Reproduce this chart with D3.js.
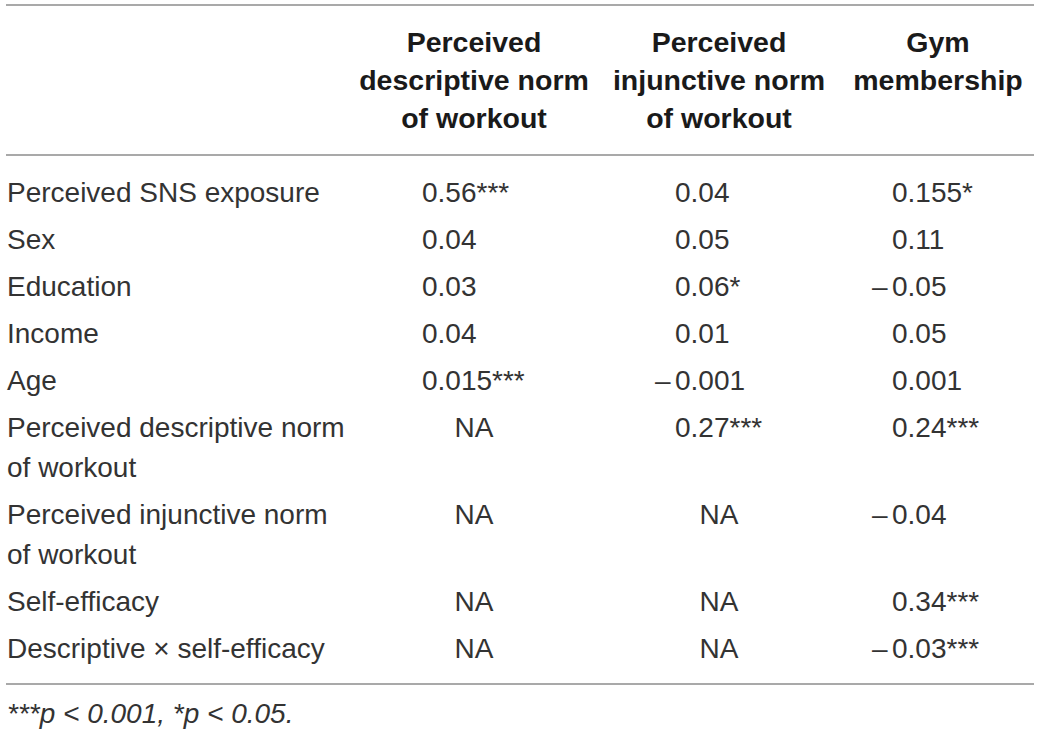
<!DOCTYPE html>
<html>
<head>
<meta charset="utf-8">
<script src="https://cdn.jsdelivr.net/npm/d3@7"></script>
<style>
  html, body { margin: 0; padding: 0; background: #fff; }
  svg { display: block; }
  text { font-family: "Liberation Sans", Helvetica, Arial, sans-serif; }
</style>
</head>
<body>
<div id="chart"></div>
<script>
(function () {
  'use strict';

  // Table content
  var columns = ['descriptive', 'injunctive', 'gym'];
  var columnHeaders = [
    ['Perceived', 'descriptive norm', 'of workout'],
    ['Perceived', 'injunctive norm', 'of workout'],
    ['Gym', 'membership']
  ];
  var rowLabels = [
    ['Perceived SNS exposure'],
    ['Sex'],
    ['Education'],
    ['Income'],
    ['Age'],
    ['Perceived descriptive norm', 'of workout'],
    ['Perceived injunctive norm', 'of workout'],
    ['Self-efficacy'],
    ['Descriptive \u00d7 self-efficacy']
  ];
  var descriptiveNorm = ['0.56***', '0.04', '0.03', '0.04', '0.015***', 'NA', 'NA', 'NA', 'NA'];
  var injunctiveNorm = ['0.04', '0.05', '0.06*', '0.01', '\u22120.001', '0.27***', 'NA', 'NA', 'NA'];
  var gymMembership = ['0.155*', '0.11', '\u22120.05', '0.05', '0.001', '0.24***', '\u22120.04', '0.34***', '\u22120.03***'];
  var footnote = '***p < 0.001, *p < 0.05.';

  var width = 1040, height = 733;
  var fontSize = 28;
  var lineGap = 40, rowGap = 47;
  var textColor = '#333';
  var ruleColor = '#8c8c8c';

  var svg = d3.select('#chart').append('svg').attr('width', width).attr('height', height);

  // Column centres (headers, NA) and numeric anchors (left edge of digits)
  var xCenter = d3.scaleOrdinal().domain(columns).range([474, 719, 938]);
  var xNum = d3.scaleOrdinal().domain(columns).range([422, 675, 892]);
  var minusShift = 20;

  // Row baselines from cumulative line counts
  var baselines = [];
  var acc = 202;
  rowLabels.forEach(function (lines) { baselines.push(acc); acc += rowGap + lineGap * (lines.length - 1); });
  var yRow = d3.scaleOrdinal().domain(d3.range(rowLabels.length)).range(baselines);

  var yHead = d3.scaleLinear().domain([0, 1]).range([52, 52 + 38]);

  // Rules
  var rules = [5, 155, 684];
  svg.selectAll('line.rule').data(rules).enter().append('line')
    .attr('class', 'rule')
    .attr('x1', 6).attr('x2', 1034)
    .attr('y1', function (d) { return d; }).attr('y2', function (d) { return d; })
    .attr('stroke', ruleColor).attr('stroke-width', 1.5);

  // Header
  columns.forEach(function (c, ci) {
    svg.append('g').selectAll('text').data(columnHeaders[ci]).enter().append('text')
      .attr('x', xCenter(c))
      .attr('y', function (d, i) { return yHead(i); })
      .attr('text-anchor', 'middle')
      .attr('font-size', 28.5).attr('font-weight', 'bold')
      .attr('fill', '#1a1a1a')
      .text(function (d) { return d; });
  });

  // Row labels
  rowLabels.forEach(function (lines, ri) {
    svg.append('g').selectAll('text').data(lines).enter().append('text')
      .attr('x', 7)
      .attr('y', function (d, i) { return yRow(ri) + i * lineGap; })
      .attr('font-size', fontSize)
      .attr('fill', textColor)
      .text(function (d) { return d; });
  });

  // Values
  var series = { descriptive: descriptiveNorm, injunctive: injunctiveNorm, gym: gymMembership };
  columns.forEach(function (c) {
    svg.append('g').selectAll('text').data(series[c]).enter().append('text')
      .attr('x', function (d) {
        if (d === 'NA') return xCenter(c);
        return d.charAt(0) === '\u2212' ? xNum(c) - minusShift : xNum(c);
      })
      .attr('y', function (d, i) { return yRow(i); })
      .attr('text-anchor', function (d) { return d === 'NA' ? 'middle' : 'start'; })
      .attr('font-size', fontSize)
      .attr('fill', textColor)
      .each(function (d) {
        var t = d3.select(this);
        if (d.charAt(0) === '\u2212') {
          t.append('tspan').text('\u2013');
          t.append('tspan').attr('x', xNum(c)).text(d.slice(1));
        } else {
          t.text(d);
        }
      });
  });

  // Footnote
  svg.append('text')
    .attr('x', 7).attr('y', 723)
    .attr('font-size', fontSize).attr('font-style', 'italic')
    .attr('fill', textColor)
    .text(footnote);
})();
</script>
</body>
</html>
